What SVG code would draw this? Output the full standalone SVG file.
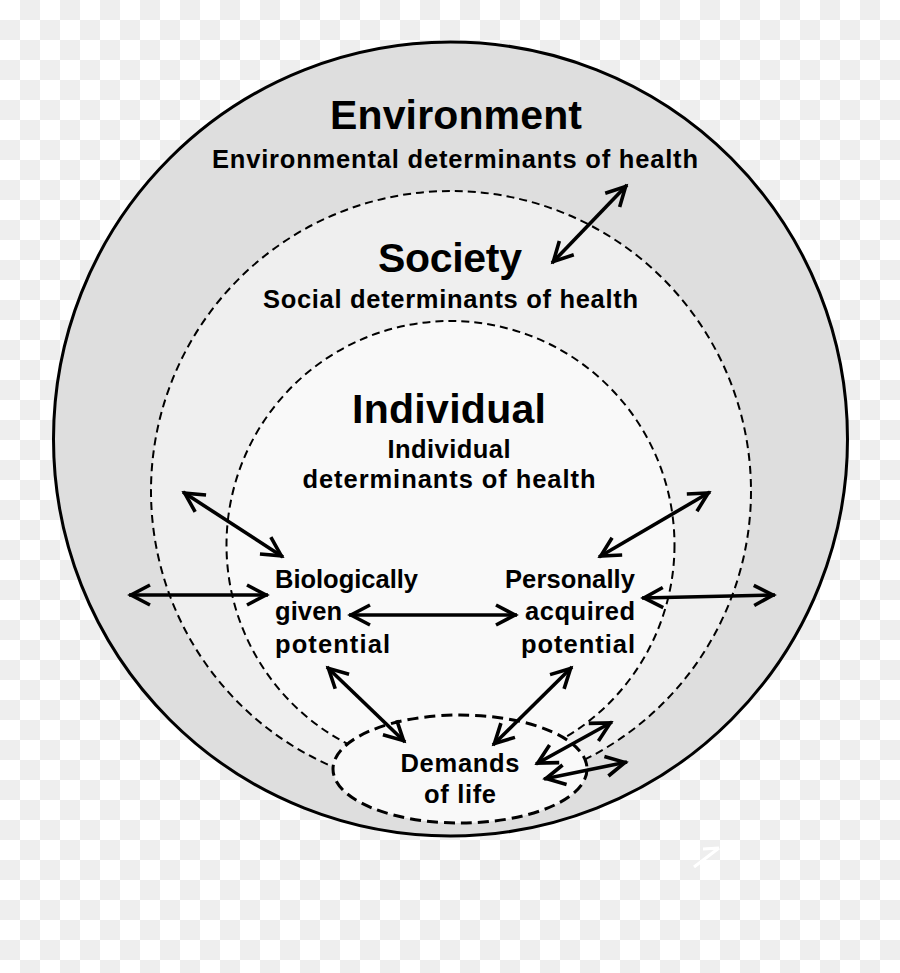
<svg xmlns="http://www.w3.org/2000/svg" width="900" height="973" viewBox="0 0 900 973">
<defs>
<pattern id="chk" width="40" height="40" patternUnits="userSpaceOnUse">
<rect width="40" height="40" fill="#ffffff"/>
<rect x="20" y="0" width="20" height="20" fill="#eeeeee"/>
<rect x="0" y="20" width="20" height="20" fill="#eeeeee"/>
</pattern>
<marker id="ah" viewBox="-24 -13 30 26" refX="2" refY="0" markerWidth="30" markerHeight="26" markerUnits="userSpaceOnUse" orient="auto-start-reverse">
<path d="M-19,-10 L0,0 L-19,10" fill="none" stroke="#000" stroke-width="3.6" stroke-linejoin="miter"/>
</marker>
</defs>
<style>
text{font-family:"Liberation Sans",Arial,sans-serif;font-weight:bold;fill:#000}
.big{font-size:41px;text-anchor:middle}
.sm{font-size:25.5px}
.mid{text-anchor:middle}
.end{text-anchor:end}
.dash{fill:none;stroke:#000;stroke-width:2;stroke-dasharray:8 5}
.arr{fill:none;stroke:#000;stroke-width:3.6;marker-start:url(#ah);marker-end:url(#ah)}
</style>
<rect width="900" height="973" fill="url(#chk)"/>
<path d="M694,867 L719,848 M703,849 L719,848" fill="none" stroke="#ffffff" stroke-width="3"/>
<g id="environment">
<circle cx="450.5" cy="439" r="397" fill="#dedede" stroke="#000" stroke-width="3"/>
<text class="big" x="456" y="129" textLength="252">Environment</text>
<text class="sm mid" x="455" y="168" textLength="486">Environmental determinants of health</text>
</g>
<g id="society">
<circle cx="451" cy="491" r="300" fill="#efefef" stroke="none"/>
<circle cx="451" cy="491" r="300" class="dash"/>
<text class="big" x="450" y="272" textLength="144">Society</text>
<text class="sm mid" x="450.5" y="308" textLength="375">Social determinants of health</text>
</g>
<g id="individual">
<circle cx="450.5" cy="545" r="224" fill="#f9f9f9" stroke="none"/>
<circle cx="450.5" cy="545" r="224" class="dash"/>
<text class="big" x="449" y="423" textLength="194">Individual</text>
<text class="sm mid" x="449" y="458" textLength="123">Individual</text>
<text class="sm mid" x="449" y="488" textLength="293">determinants of health</text>
</g>
<g id="biological">
<text class="sm" x="275" y="588" textLength="143">Biologically</text>
<text class="sm" x="275" y="620" textLength="67">given</text>
<text class="sm" x="275" y="653" textLength="115">potential</text>
</g>
<g id="personal">
<text class="sm end" x="635" y="588" textLength="130">Personally</text>
<text class="sm end" x="635" y="620" textLength="110">acquired</text>
<text class="sm end" x="635" y="653" textLength="114">potential</text>
</g>
<g id="demands">
<ellipse cx="460" cy="769" rx="127" ry="54" fill="#f9f9f9" stroke="#000" stroke-width="3" stroke-dasharray="11 6"/>
<text class="sm mid" x="460" y="772" textLength="119">Demands</text>
<text class="sm mid" x="460" y="803" textLength="72">of life</text>
</g>
<g id="connectors">
<line class="arr" x1="627" y1="185" x2="552" y2="263"/>
<line class="arr" x1="183" y1="492" x2="283" y2="557"/>
<line class="arr" x1="129" y1="595" x2="268" y2="595"/>
<line class="arr" x1="349" y1="615" x2="517" y2="615"/>
<line class="arr" x1="710" y1="492" x2="599" y2="557"/>
<line class="arr" x1="642" y1="598" x2="775" y2="595"/>
<line class="arr" x1="327" y1="667" x2="405" y2="742"/>
<line class="arr" x1="572" y1="667" x2="493" y2="745"/>
<line class="arr" x1="612" y1="722" x2="536" y2="764"/>
<line class="arr" x1="627" y1="762" x2="544" y2="779"/>
</g>
</svg>
